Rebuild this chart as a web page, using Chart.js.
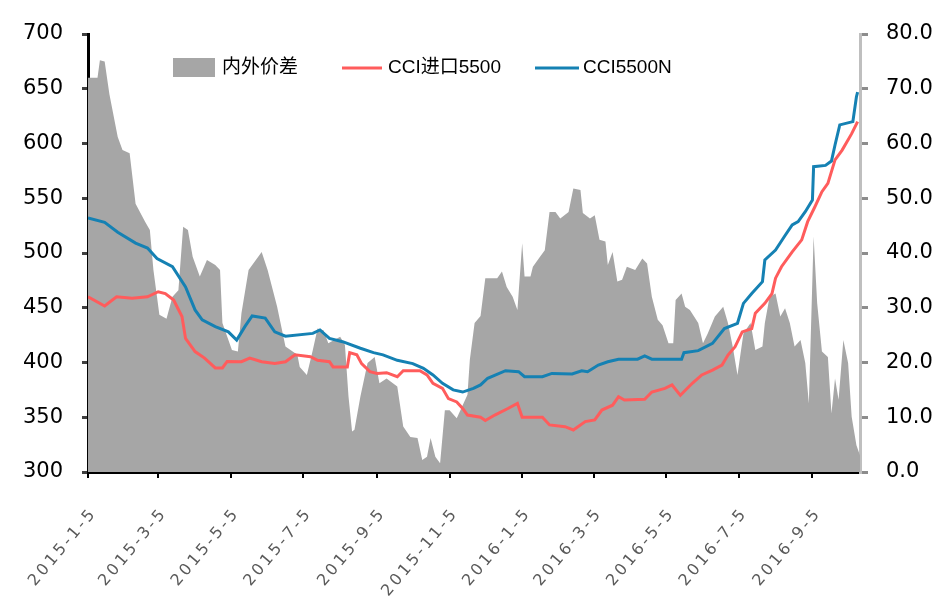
<!DOCTYPE html>
<html><head><meta charset="utf-8">
<script src="https://cdn.jsdelivr.net/npm/chart.js@4.4.1/dist/chart.umd.min.js"></script>
<style>html,body{margin:0;padding:0;background:#fff}canvas{display:block}</style>
</head><body>
<canvas id="c" width="932" height="602"></canvas>
<script>
// ---------- DATA ----------
const seriesNames = ['内外价差', 'CCI进口5500', 'CCI5500N'];

const tickDates  = ['2015-01-05','2015-03-05','2015-05-05','2015-07-05','2015-09-05','2015-11-05','2016-01-05','2016-03-05','2016-05-05','2016-07-05','2016-09-05'];
const tickLabels = ['2015-1-5','2015-3-5','2015-5-5','2015-7-5','2015-9-5','2015-11-5','2016-1-5','2016-3-5','2016-5-5','2016-7-5','2016-9-5'];
const lastDate = '2016-10-15';

// CCI5500N (left axis)
const cciNDates = ['2015-01-05','2015-01-19','2015-01-30','2015-02-14','2015-02-24','2015-03-04','2015-03-17','2015-03-28','2015-04-05','2015-04-11','2015-04-22','2015-05-03','2015-05-10','2015-05-17','2015-05-23','2015-06-03','2015-06-11','2015-06-20','2015-07-13','2015-07-19','2015-07-27','2015-08-07','2015-08-22','2015-09-02','2015-09-10','2015-09-22','2015-10-05','2015-10-14','2015-10-22','2015-10-30','2015-11-08','2015-11-16','2015-11-25','2015-12-01','2015-12-07','2015-12-22','2016-01-02','2016-01-07','2016-01-22','2016-01-30','2016-02-16','2016-02-24','2016-02-29','2016-03-09','2016-03-17','2016-03-26','2016-04-11','2016-04-17','2016-04-23','2016-05-18','2016-05-20','2016-06-01','2016-06-13','2016-06-23','2016-07-04','2016-07-09','2016-07-16','2016-07-25','2016-07-27','2016-08-05','2016-08-13','2016-08-19','2016-08-24','2016-08-30','2016-09-05','2016-09-06','2016-09-16','2016-09-21','2016-09-24','2016-09-28','2016-10-09','2016-10-12','2016-10-13'];
const cciNValues = [532,528,519,509,504.5,495,487.5,469,448,439,432.7,428,420.5,433,442.5,440.6,428,424,426.6,429.7,422,419,413,409,407,402,399,394.7,388.6,381,375,373,376.4,379.5,385.6,392.5,391.6,387,387,390,389.5,392.5,391.6,397.7,400.7,403,403,406,403,403,409,410.8,417.5,431,435.8,454,463,473.8,493.6,502.7,516,525.6,528.6,537.7,548.4,578.8,580,584,598.6,617,620,642.7,647];

// CCI进口5500 (left axis)
const cciImpDates = ['2015-01-05','2015-01-19','2015-01-29','2015-02-11','2015-02-24','2015-03-05','2015-03-11','2015-03-18','2015-03-25','2015-03-28','2015-04-05','2015-04-13','2015-04-22','2015-04-28','2015-05-02','2015-05-14','2015-05-21','2015-05-31','2015-06-11','2015-06-20','2015-06-28','2015-07-11','2015-07-17','2015-07-27','2015-07-30','2015-08-11','2015-08-13','2015-08-19','2015-08-23','2015-08-30','2015-09-05','2015-09-13','2015-09-22','2015-09-27','2015-10-11','2015-10-17','2015-10-22','2015-10-30','2015-11-04','2015-11-11','2015-11-16','2015-11-20','2015-12-01','2015-12-05','2015-12-13','2015-12-24','2016-01-01','2016-01-05','2016-01-22','2016-01-28','2016-02-10','2016-02-17','2016-02-27','2016-03-06','2016-03-12','2016-03-21','2016-03-26','2016-03-31','2016-04-17','2016-04-23','2016-05-04','2016-05-10','2016-05-17','2016-05-27','2016-06-04','2016-06-13','2016-06-21','2016-06-26','2016-07-02','2016-07-08','2016-07-16','2016-07-19','2016-07-27','2016-08-02','2016-08-05','2016-08-10','2016-08-19','2016-08-27','2016-09-01','2016-09-07','2016-09-13','2016-09-18','2016-09-24','2016-09-30','2016-10-08','2016-10-13'];
const cciImpValues = [460,451.6,460,458.6,460,464.6,463,457,442,422,410,404,395,395,401,400.7,404,400.7,399,400.7,407,405.3,402,400.7,396,396,409,407,399,391.6,390,390.7,387,392.5,392.5,388.6,381,376.4,367,364,358,352,350,347,352,358,362.7,350,350,343,341.4,338.4,346,347.5,356.6,361,368.8,365.7,366.4,373,376.4,379.5,370,381,388.6,393,397.7,406.8,414.4,428,431,445,454,463,477,487.5,501,512,528.6,542,556,563.6,585,594,609,620];

// 内外价差 (right axis)
const gapDates = ['2015-01-05','2015-01-13','2015-01-15','2015-01-19','2015-01-23','2015-01-30','2015-02-03','2015-02-09','2015-02-14','2015-02-22','2015-02-26','2015-03-01','2015-03-04','2015-03-06','2015-03-12','2015-03-17','2015-03-22','2015-03-26','2015-03-30','2015-04-03','2015-04-09','2015-04-15','2015-04-22','2015-04-26','2015-04-28','2015-05-06','2015-05-11','2015-05-14','2015-05-20','2015-05-31','2015-06-05','2015-06-13','2015-06-20','2015-06-30','2015-07-02','2015-07-08','2015-07-13','2015-07-17','2015-07-22','2015-07-26','2015-08-05','2015-08-09','2015-08-12','2015-08-15','2015-08-17','2015-08-22','2015-08-28','2015-09-03','2015-09-07','2015-09-13','2015-09-22','2015-09-27','2015-10-03','2015-10-09','2015-10-13','2015-10-17','2015-10-20','2015-10-24','2015-10-28','2015-11-01','2015-11-05','2015-11-11','2015-11-20','2015-11-22','2015-11-26','2015-12-01','2015-12-05','2015-12-15','2015-12-19','2015-12-23','2015-12-28','2016-01-01','2016-01-05','2016-01-07','2016-01-12','2016-01-14','2016-01-20','2016-01-24','2016-01-28','2016-02-02','2016-02-06','2016-02-13','2016-02-17','2016-02-23','2016-02-25','2016-03-02','2016-03-06','2016-03-10','2016-03-15','2016-03-17','2016-03-21','2016-03-25','2016-03-29','2016-04-02','2016-04-09','2016-04-15','2016-04-19','2016-04-23','2016-04-28','2016-05-02','2016-05-07','2016-05-11','2016-05-13','2016-05-18','2016-05-21','2016-05-25','2016-06-01','2016-06-05','2016-06-09','2016-06-15','2016-06-22','2016-06-26','2016-06-30','2016-07-04','2016-07-09','2016-07-15','2016-07-19','2016-07-25','2016-07-27','2016-07-31','2016-08-05','2016-08-09','2016-08-13','2016-08-17','2016-08-21','2016-08-26','2016-08-30','2016-09-02','2016-09-06','2016-09-09','2016-09-13','2016-09-18','2016-09-21','2016-09-24','2016-09-27','2016-10-01','2016-10-05','2016-10-08','2016-10-12','2016-10-15'];
const gapValues = [72,72,75.2,75,69,61.2,58.8,58.2,49,45.7,44.2,36.9,32,28.7,28,32,33.2,44.8,44.2,39.3,35.7,38.7,37.8,36.9,27.2,22.3,22,29,36.9,40.2,36.9,30.2,22.9,21.4,19.2,17.7,22.3,26.2,25.9,23.5,24.7,23.2,13.8,7.4,7.7,13.8,19.9,21,16.2,17.1,15.6,8.3,6.4,6.2,2.2,2.8,6.2,2.8,1.6,11.3,11.3,9.8,14.1,20.5,27.2,28.5,35.4,35.4,36.6,33.8,32,29.6,41.8,35.7,35.7,37.5,39.3,40.5,47.5,47.5,46.3,47.5,51.8,51.5,47.3,46.3,46.9,42.4,42.1,37.8,40.2,34.8,35.1,37.5,36.9,39,38.1,32,27.8,26.8,23.5,23.5,31.4,32.6,30.2,29.6,27.2,23.5,25.3,28.4,30.2,27.2,22.9,17.7,25.3,27.2,22.3,22.9,27.2,32,32.6,28.4,29.9,27.2,22.9,24.1,19.9,12.5,43,30.8,22,21,10.7,17.1,13.2,24.1,19.9,10.1,4.9,3];

// ---------- HELPERS ----------
const DAY0 = Date.UTC(2015, 0, 5);
function dayOf(s) { const p = s.split('-').map(Number); return (Date.UTC(p[0], p[1] - 1, p[2]) - DAY0) / 86400000; }
function pts(dates, vals) { return dates.map((s, i) => ({ x: dayOf(s), y: vals[i] })); }

const RED = '#ff5c5c', BLUE = '#1581b3', GRAY = '#a6a6a6';
const AXIS_FONT = { family: 'DejaVu Sans', size: 21 };

// wider letter spacing for the date labels on the x axis
const spacingPlugin = {
  id: 'xLabelSpacing',
  beforeDraw(chart) {
    const s = chart.scales.x;
    if (s && !s._spaced) {
      const orig = s.drawLabels.bind(s);
      s.drawLabels = function (area) {
        const ctx = this.ctx;
        ctx.save();
        ctx.letterSpacing = '3px';
        orig(area);
        ctx.restore();
      };
      s._spaced = true;
    }
  }
};

const legendPlugin = {
  id: 'customLegend',
  afterDatasetsDraw(chart) {
    const ctx = chart.ctx;
    ctx.save();
    ctx.font = '19px "Liberation Sans", "Noto Sans CJK SC", sans-serif';
    ctx.textBaseline = 'middle';
    ctx.fillStyle = GRAY;
    ctx.fillRect(173, 58, 42, 19);
    ctx.fillStyle = '#000';
    ctx.fillText(seriesNames[0], 222, 68);
    ctx.strokeStyle = RED; ctx.lineWidth = 3;
    ctx.beginPath(); ctx.moveTo(342, 68); ctx.lineTo(382, 68); ctx.stroke();
    ctx.fillText(seriesNames[1], 388, 68);
    ctx.strokeStyle = BLUE;
    ctx.beginPath(); ctx.moveTo(535, 68); ctx.lineTo(579, 68); ctx.stroke();
    ctx.fillText(seriesNames[2], 583, 68);
    ctx.restore();
  }
};

new Chart(document.getElementById('c'), {
  type: 'line',
  data: {
    datasets: [
      { label: seriesNames[2], data: pts(cciNDates, cciNValues), yAxisID: 'y', borderColor: BLUE, borderWidth: 3, pointRadius: 0, tension: 0, fill: false },
      { label: seriesNames[1], data: pts(cciImpDates, cciImpValues), yAxisID: 'y', borderColor: RED, borderWidth: 3, pointRadius: 0, tension: 0, fill: false },
      { label: seriesNames[0], data: pts(gapDates, gapValues), yAxisID: 'y2', borderWidth: 0, borderColor: GRAY, backgroundColor: GRAY, pointRadius: 0, tension: 0, fill: 'start' }
    ]
  },
  options: {
    responsive: false,
    devicePixelRatio: 1,
    animation: false,
    layout: { padding: { top: 34, left: 0, right: 0, bottom: 0 } },
    plugins: { legend: { display: false }, tooltip: { enabled: false } },
    scales: {
      x: {
        type: 'linear', min: 0, max: dayOf(lastDate),
        afterBuildTicks(s) { s.ticks = tickDates.map(d => ({ value: dayOf(d) })); },
        afterFit(s) { s.height = 130; },
        ticks: {
          autoSkip: false, maxRotation: 50, minRotation: 50, color: '#5a5a5a', padding: 26, labelOffset: 6,
          font: { family: 'DejaVu Sans', size: 16 },
          callback(v) { const i = tickDates.findIndex(d => dayOf(d) === v); return i >= 0 ? tickLabels[i] : ''; }
        },
        grid: { drawOnChartArea: false, drawTicks: true, tickLength: 6, color: '#000', lineWidth: 2 },
        border: { display: true, color: '#000', width: 3 }
      },
      y: {
        position: 'left', min: 300, max: 700,
        afterFit(s) { s.width = 88; },
        ticks: { stepSize: 50, color: '#000', font: AXIS_FONT, padding: 19 },
        grid: { drawOnChartArea: false, drawTicks: true, tickLength: 6, color: '#404040', lineWidth: 3 },
        border: { display: true, color: '#000', width: 3 }
      },
      y2: {
        position: 'right', min: 0, max: 80,
        afterFit(s) { s.width = 72; },
        ticks: { stepSize: 10, color: '#000', font: AXIS_FONT, padding: 18, callback: v => v.toFixed(1) },
        grid: { drawOnChartArea: false, drawTicks: true, tickLength: 8, color: '#8c8c8c', lineWidth: 3 },
        border: { display: true, color: '#bfbfbf', width: 3 }
      }
    }
  },
  plugins: [spacingPlugin, legendPlugin]
});
</script>
</body></html>
